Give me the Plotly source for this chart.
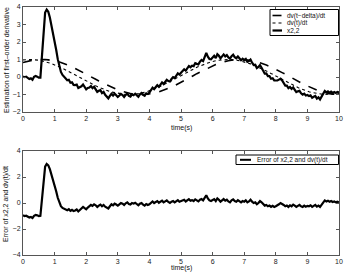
import plotly.graph_objects as go

# time grid (s), 0.05 s step
t = [round(i * 0.05, 2) for i in range(201)]

# dv(t)/dt (0.05 s step)
dvdt = [
    0.98, 0.99, 1.0, 1.0, 1.0, 1.0, 0.99, 0.99, 0.98, 0.97,
    0.96, 0.94, 0.92, 0.90, 0.88, 0.85, 0.83, 0.80, 0.77, 0.73,
    0.70, 0.66, 0.62, 0.58, 0.54, 0.50, 0.45, 0.41, 0.36, 0.32,
    0.27, 0.22, 0.17, 0.12, 0.07, 0.02, -0.03, -0.08, -0.13, -0.18,
    -0.23, -0.28, -0.32, -0.37, -0.42, -0.46, -0.51, -0.55, -0.59, -0.63,
    -0.67, -0.70, -0.74, -0.77, -0.80, -0.83, -0.86, -0.88, -0.90, -0.92,
    -0.94, -0.96, -0.97, -0.98, -0.99, -1.0, -1.0, -1.0, -1.0, -0.99,
    -0.99, -0.98, -0.97, -0.95, -0.94, -0.92, -0.90, -0.87, -0.85, -0.82,
    -0.79, -0.76, -0.73, -0.69, -0.65, -0.62, -0.58, -0.53, -0.49, -0.45,
    -0.40, -0.36, -0.31, -0.26, -0.21, -0.16, -0.11, -0.06, -0.01, 0.04,
    0.09, 0.14, 0.19, 0.24, 0.28, 0.33, 0.38, 0.42, 0.47, 0.51,
    0.55, 0.60, 0.63, 0.67, 0.71, 0.74, 0.78, 0.81, 0.83, 0.86,
    0.89, 0.91, 0.93, 0.95, 0.96, 0.97, 0.98, 0.99, 1.0, 1.0,
    1.0, 1.0, 0.99, 0.99, 0.98, 0.97, 0.95, 0.93, 0.91, 0.89,
    0.87, 0.84, 0.82, 0.79, 0.75, 0.72, 0.68, 0.65, 0.61, 0.57,
    0.53, 0.48, 0.44, 0.39, 0.35, 0.30, 0.25, 0.20, 0.15, 0.10,
    0.05, 0.0, -0.05, -0.10, -0.15, -0.20, -0.24, -0.29, -0.34, -0.39,
    -0.43, -0.48, -0.52, -0.56, -0.60, -0.64, -0.68, -0.71, -0.75, -0.78,
    -0.81, -0.84, -0.87, -0.89, -0.91, -0.93, -0.95, -0.96, -0.98, -0.99,
    -0.99, -1.0, -1.0, -1.0, -1.0, -0.99, -0.99, -0.98, -0.96, -0.95,
    -0.93,
]

# error of x2,2 vs dv(t)/dt (0.05 s step)
err = [
    -0.95, -1.0, -0.98, -1.05, -1.12, -1.08, -1.15, -0.98, -0.92, -0.95, -1.0, -0.98,
    0.4, 2.0, 2.8, 3.0, 2.9, 2.6, 2.2, 1.8, 1.35, 0.9, 0.4, 0.0, -0.25, -0.38, -0.45,
    -0.5, -0.55, -0.48, -0.6, -0.52, -0.62, -0.58, -0.5, -0.65, -0.55, -0.45, -0.3, -0.4, -0.48,
    -0.35, -0.28, -0.15, -0.22, -0.1, -0.18, -0.3, -0.2, -0.12, -0.25,
    -0.15, -0.28, -0.35, -0.42, -0.25, -0.1, -0.18, -0.05, -0.12, -0.2,
    -0.1, 0.0, -0.05, -0.15, -0.02, 0.05, -0.08, -0.12, 0.0, -0.05,
    0.02, -0.1, -0.18, -0.05, 0.0, -0.12, -0.2, -0.08, -0.15, -0.1,
    0.05, 0.12, 0.0, 0.08, 0.15, 0.02, 0.1, 0.18, 0.05, 0.12,
    0.2, 0.08, 0.0, 0.1, 0.15, 0.05, 0.12, 0.22, 0.1, 0.15,
    0.15, 0.25, 0.12, 0.2, 0.3, 0.18, 0.22, 0.15, 0.28, 0.2,
    0.12, 0.25, 0.3, 0.2, 0.4, 0.6, 0.35, 0.2, 0.15, 0.22,
    0.3, 0.15, 0.35, 0.25, 0.1, 0.2, 0.3, 0.18, 0.25, 0.12,
    0.05, 0.2, 0.28, 0.15, 0.1, 0.22, 0.12, 0.05, 0.15, 0.1,
    0.2, 0.05, 0.12, 0.25, 0.1, 0.0, 0.05, -0.1, 0.0, 0.15,
    0.05, -0.05, -0.2, -0.15, -0.25, -0.2, -0.3, -0.22, -0.3, -0.25,
    -0.2, -0.1, 0.0, -0.05, -0.15, -0.25, -0.2, -0.3, -0.18, -0.25,
    -0.12, -0.2, -0.3, -0.22, -0.15, -0.25, -0.3, -0.2, -0.28, -0.22,
    -0.25, -0.18, -0.3, -0.22, -0.15, -0.28, -0.2, -0.3, -0.15, 0.05,
    0.2, 0.12, 0.18, 0.1, 0.15, 0.08, 0.12, 0.05, 0.1, 0.05,
]

# dv(t-delta)/dt (0.1 s step)
t_d = [round(i * 0.1, 1) for i in range(101)]
dvdt_delay = [
    0.83, 0.88, 0.92, 0.96, 0.98, 1.0, 1.0, 1.0, 0.98, 0.96,
    0.92, 0.88, 0.83, 0.77, 0.70, 0.62, 0.54, 0.45, 0.36, 0.27,
    0.17, 0.07, -0.03, -0.13, -0.23, -0.32, -0.42, -0.51, -0.59, -0.67,
    -0.74, -0.80, -0.86, -0.90, -0.94, -0.97, -0.99, -1.0, -1.0, -0.99,
    -0.97, -0.94, -0.90, -0.85, -0.79, -0.73, -0.65, -0.58, -0.49, -0.40,
    -0.31, -0.21, -0.11, -0.01, 0.09, 0.19, 0.28, 0.38, 0.47, 0.55,
    0.64, 0.71, 0.78, 0.84, 0.89, 0.93, 0.96, 0.98, 1.0, 1.0,
    0.99, 0.98, 0.95, 0.92, 0.87, 0.82, 0.75, 0.68, 0.61, 0.53,
    0.44, 0.35, 0.25, 0.16, 0.05, -0.05, -0.15, -0.24, -0.34, -0.43,
    -0.52, -0.60, -0.68, -0.75, -0.81, -0.87, -0.91, -0.95, -0.98, -0.99,
    -1.0,
]

x_ticks = [0, 1, 2, 3, 4, 5, 6, 7, 8, 9, 10]
y1_ticks = [-2, -1, 0, 1, 2, 3, 4]
y2_ticks = [-4, -2, 0, 2, 4]

names_top = ["dv(t\u2212delta)/dt", "dv(t)/dt", "x2,2"]
name_bottom = "Error of x2,2 and dv(t)/dt"

x22 = [d + e for d, e in zip(dvdt, err)]

styles_top = [dict(color="black", width=1.6, dash="dash"),
              dict(color="black", width=1.1, dash="dot"),
              dict(color="black", width=2.2)]
style_bottom = dict(color="black", width=2.2)

fig = go.Figure()
fig.add_trace(go.Scatter(x=t_d, y=dvdt_delay, mode="lines", name=names_top[0],
                         line=styles_top[0], xaxis="x", yaxis="y"))
fig.add_trace(go.Scatter(x=t, y=dvdt, mode="lines", name=names_top[1],
                         line=styles_top[1], xaxis="x", yaxis="y"))
fig.add_trace(go.Scatter(x=t, y=x22, mode="lines", name=names_top[2],
                         line=styles_top[2], xaxis="x", yaxis="y"))
fig.add_trace(go.Scatter(x=t, y=err, mode="lines", name=name_bottom,
                         line=style_bottom, xaxis="x2", yaxis="y2"))

ax_common = dict(showline=True, linecolor="#555", linewidth=1, mirror="allticks",
                 ticks="inside", ticklen=3, tickcolor="#555", showgrid=False,
                 zeroline=False, automargin=False,
                 tickfont=dict(size=7, color="#222"))

ML, MR, MT, MB = 23, 7, 7, 21
W, H = 346, 276
PW, PH = W - ML - MR, H - MT - MB


def px_x(px):
    return (px - ML) / PW


def px_y(py):
    return (H - MB - py) / PH


fig.update_layout(
    width=W, height=H,
    margin=dict(l=ML, r=MR, t=MT, b=MB),
    paper_bgcolor="white", plot_bgcolor="white",
    font=dict(family="Liberation Sans, Arial, sans-serif", size=7, color="#111"),
    showlegend=False,
    xaxis=dict(range=[0, 10], tickvals=x_ticks, domain=[0, 1], anchor="y",
               ticklabeloverflow="allow", **ax_common),
    yaxis=dict(range=[-2, 4], tickvals=y1_ticks, domain=[px_y(112), px_y(7)], anchor="x",
               **ax_common),
    xaxis2=dict(range=[0, 10], tickvals=x_ticks, domain=[0, 1], anchor="y2",
                ticklabeloverflow="allow", **ax_common),
    yaxis2=dict(range=[-4, 4], tickvals=y2_ticks, domain=[0, px_y(151)], anchor="x2",
                **ax_common),
)

ann = []
shapes = []
# axis titles
ann.append(dict(text="time(s)", x=0.5, y=px_y(128), xref="paper", yref="paper",
                showarrow=False, font=dict(size=7), xanchor="center", yanchor="middle"))
ann.append(dict(text="time(s)", x=0.5, y=px_y(268), xref="paper", yref="paper",
                showarrow=False, font=dict(size=7), xanchor="center", yanchor="middle"))
ann.append(dict(text="Estimation of first\u2013order derivative", x=px_x(6), y=px_y(60),
                xref="paper", yref="paper", showarrow=False, textangle=-90,
                font=dict(size=7), xanchor="center", yanchor="middle"))
ann.append(dict(text=name_bottom, x=px_x(6), y=px_y(204),
                xref="paper", yref="paper", showarrow=False, textangle=-90,
                font=dict(size=7), xanchor="center", yanchor="middle"))

# top legend box
shapes.append(dict(type="rect", xref="paper", yref="paper",
                   x0=px_x(270), x1=px_x(338.5), y0=px_y(35.5), y1=px_y(9.5),
                   line=dict(color="black", width=1), fillcolor="white", layer="above"))
for i, (nm, st) in enumerate(zip(names_top, styles_top)):
    yy = px_y(15.5 + i * 7.5)
    shapes.append(dict(type="line", xref="paper", yref="paper",
                       x0=px_x(272.5), x1=px_x(282), y0=yy, y1=yy,
                       line=dict(color="black", width=st["width"], dash=st.get("dash", "solid")),
                       layer="above"))
    ann.append(dict(text=nm, x=px_x(285), y=yy, xref="paper", yref="paper",
                    showarrow=False, font=dict(size=6.5), xanchor="left", yanchor="middle"))

# bottom legend box
shapes.append(dict(type="rect", xref="paper", yref="paper",
                   x0=px_x(236), x1=px_x(338.5), y0=px_y(164.5), y1=px_y(155),
                   line=dict(color="black", width=1), fillcolor="white", layer="above"))
yy = px_y(159.8)
shapes.append(dict(type="line", xref="paper", yref="paper",
                   x0=px_x(240), x1=px_x(251), y0=yy, y1=yy,
                   line=dict(color="black", width=2), layer="above"))
ann.append(dict(text=name_bottom, x=px_x(254.5), y=yy, xref="paper", yref="paper",
                showarrow=False, font=dict(size=6.5), xanchor="left", yanchor="middle"))

fig.update_layout(annotations=ann, shapes=shapes)

fig.write_html(
    "out.html",
    config={"displayModeBar": False, "staticPlot": True},
    post_script="document.body.style.margin='0';document.body.style.padding='0';"
                "document.documentElement.style.overflow='hidden';",
)
